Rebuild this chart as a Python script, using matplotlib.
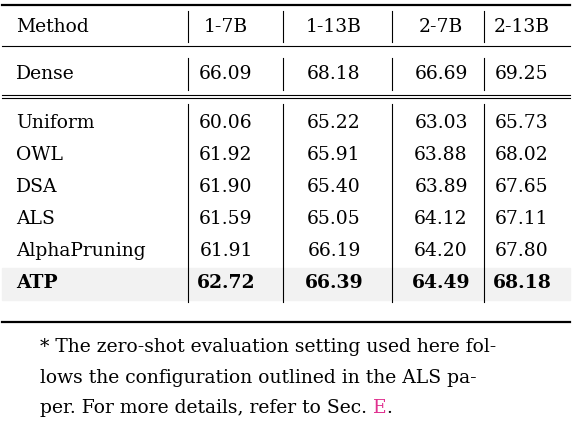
import matplotlib
matplotlib.use("Agg")
import matplotlib.pyplot as plt
from matplotlib.patches import Rectangle

columns = ["1-7B", "1-13B", "2-7B", "2-13B"]
dense = [66.09, 68.18, 66.69, 69.25]
methods = ["Uniform", "OWL", "DSA", "ALS", "AlphaPruning", "ATP"]
values = [
    [60.06, 65.22, 63.03, 65.73],
    [61.92, 65.91, 63.88, 68.02],
    [61.90, 65.40, 63.89, 67.65],
    [61.59, 65.05, 64.12, 67.11],
    [61.91, 66.19, 64.20, 67.80],
    [62.72, 66.39, 64.49, 68.18],
]
footnote = ["* The zero-shot evaluation setting used here fol-",
            "lows the configuration outlined in the ALS pa-",
            "per. For more details, refer to Sec. "]

plt.rcParams['font.family'] = ['DejaVu Serif']
fig = plt.figure(figsize=(5.72, 4.24), dpi=100)
ax = fig.add_axes([0, 0, 1, 1])
ax.set_xlim(0, 572); ax.set_ylim(424, 0); ax.axis("off")

fs = 13.5
colx = [226, 334, 441, 522]
bars = [188, 283, 392, 484]

ax.plot([2, 570], [5, 5], color="black", lw=1.6)
ax.plot([2, 570], [46, 46], color="black", lw=0.8)
ax.plot([2, 570], [95, 95], color="black", lw=0.8)
ax.plot([2, 570], [98, 98], color="black", lw=0.8)
ax.plot([2, 570], [322, 322], color="black", lw=1.6)
ax.add_patch(Rectangle((2, 268), 568, 32, color="#f2f2f2", zorder=0))

for y0, y1 in [(11, 42), (58, 90), (104, 302)]:
    for b in bars:
        ax.plot([b, b], [y0, y1], color="black", lw=0.8)

ax.text(16, 27, "Method", fontsize=fs, va="center")
for x, c in zip(colx, columns):
    ax.text(x, 27, c, fontsize=fs, va="center", ha="center")
ax.text(16, 74, "Dense", fontsize=fs, va="center")
for x, v in zip(colx, dense):
    ax.text(x, 74, f"{v:.2f}", fontsize=fs, va="center", ha="center")
for i, (m, row) in enumerate(zip(methods, values)):
    y = 123 + 32 * i
    w = "bold" if m == "ATP" else "normal"
    ax.text(16, y, m, fontsize=fs, va="center", fontweight=w)
    for x, v in zip(colx, row):
        ax.text(x, y, f"{v:.2f}", fontsize=fs, va="center", ha="center", fontweight=w)

fy = [347, 378, 408]
for y, line in zip(fy, footnote):
    t = ax.text(40, y, line, fontsize=fs, va="center")
fig.canvas.draw()
bb = t.get_window_extent(fig.canvas.get_renderer())
xe = bb.x1
t2 = ax.text(xe, fy[2], "E", fontsize=fs, va="center", color="#e0308f")
fig.canvas.draw()
bb2 = t2.get_window_extent(fig.canvas.get_renderer())
ax.text(bb2.x1, fy[2], ".", fontsize=fs, va="center")

fig.savefig("out.png", dpi=100)
